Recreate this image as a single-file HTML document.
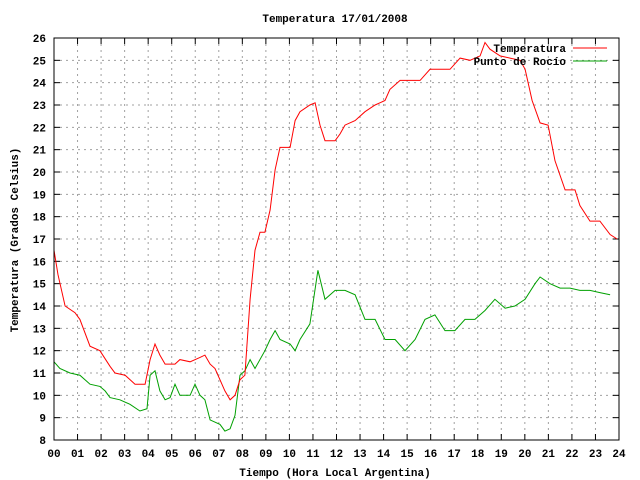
<!DOCTYPE html>
<html><head><meta charset="utf-8"><style>
body{margin:0;background:#fff}
svg{display:block}
text{font-family:"Liberation Mono",monospace;font-size:11px;font-weight:bold;fill:#000}
</style></head><body>
<svg id="chart" width="640" height="480" xmlns="http://www.w3.org/2000/svg">
<rect width="640" height="480" fill="#fff"/>
<g id="grid"></g>
<g id="ticks"></g>
<g id="series"></g>
<rect x="54" y="38" width="565" height="402" fill="none" stroke="#000"/>
<text x="335" y="22" text-anchor="middle">Temperatura 17/01/2008</text>
<text x="335" y="476" text-anchor="middle">Tiempo (Hora Local Argentina)</text>
<text transform="translate(18,240) rotate(-90)" text-anchor="middle">Temperatura (Grados Celsius)</text>
<g>
<text x="566" y="52" text-anchor="end">Temperatura</text>
<line x1="573" y1="48" x2="607" y2="48" stroke="#f00"/>
<text x="566" y="65" text-anchor="end">Punto de Rocío</text>
<line x1="573" y1="61" x2="607" y2="61" stroke="#00a000"/>
</g>
</svg>
<script>
const xTicks=[0,1,2,3,4,5,6,7,8,9,10,11,12,13,14,15,16,17,18,19,20,21,22,23,24];
const yTicks=[8,9,10,11,12,13,14,15,16,17,18,19,20,21,22,23,24,25,26];
const tempHours=[0,0.17,0.47,0.89,1.10,1.53,1.95,2.38,2.59,3.02,3.44,3.87,4.08,4.29,4.50,4.72,5.14,5.35,5.78,6.20,6.41,6.63,6.84,7.26,7.48,7.69,7.90,8.11,8.33,8.54,8.75,8.96,9.18,9.39,9.60,10.03,10.24,10.45,10.87,11.09,11.30,11.51,11.94,12.15,12.36,12.79,13.21,13.64,14.06,14.27,14.70,15.12,15.55,15.97,16.40,16.82,17.25,17.67,18.10,18.31,18.52,18.95,19.37,19.80,20.01,20.31,20.65,20.99,21.28,21.71,22.13,22.34,22.77,23.19,23.62,23.92];
const tempValues=[16.5,15.4,14.0,13.7,13.4,12.2,12.0,11.3,11.0,10.9,10.5,10.5,11.6,12.3,11.8,11.4,11.4,11.6,11.5,11.7,11.8,11.4,11.2,10.2,9.8,10.0,10.7,10.9,14.3,16.5,17.3,17.3,18.3,20.1,21.1,21.1,22.3,22.7,23.0,23.1,22.1,21.4,21.4,21.7,22.1,22.3,22.7,23.0,23.2,23.7,24.1,24.1,24.1,24.6,24.6,24.6,25.1,25.0,25.2,25.8,25.5,25.2,25.1,25.0,24.6,23.2,22.2,22.1,20.5,19.2,19.2,18.5,17.8,17.8,17.2,17.0];
const dewHours=[0,0.25,0.68,1.10,1.53,1.95,2.17,2.38,2.80,3.23,3.65,3.95,4.08,4.29,4.50,4.72,4.93,5.14,5.35,5.78,5.99,6.20,6.41,6.63,7.05,7.26,7.48,7.69,7.90,8.11,8.33,8.54,8.96,9.18,9.39,9.60,10.03,10.24,10.45,10.87,11.21,11.51,11.94,12.36,12.79,13.21,13.64,14.06,14.49,14.91,15.34,15.76,16.18,16.61,17.03,17.46,17.88,18.31,18.73,19.16,19.58,20.01,20.43,20.65,21.07,21.50,21.92,22.34,22.77,23.19,23.62];
const dewValues=[11.5,11.2,11.0,10.9,10.5,10.4,10.2,9.9,9.8,9.6,9.3,9.4,10.9,11.1,10.2,9.8,9.9,10.5,10.0,10.0,10.5,10.0,9.8,8.9,8.7,8.4,8.5,9.1,10.9,11.1,11.6,11.2,12.0,12.5,12.9,12.5,12.3,12.0,12.5,13.2,15.6,14.3,14.7,14.7,14.5,13.4,13.4,12.5,12.5,12.0,12.5,13.4,13.6,12.9,12.9,13.4,13.4,13.8,14.3,13.9,14.0,14.3,15.0,15.3,15.0,14.8,14.8,14.7,14.7,14.6,14.5];
const X0=54,X1=619,Y0=440,Y1=38;
const sx=h=>X0+(h-0)/(24-0)*(X1-X0);
const sy=v=>Y0-(v-8)/(26-8)*(Y0-Y1);
const NS="http://www.w3.org/2000/svg";
const grid=document.getElementById('grid'),ticks=document.getElementById('ticks'),ser=document.getElementById('series');
function mk(tag,attrs,parent){const e=document.createElementNS(NS,tag);for(const k in attrs)e.setAttribute(k,attrs[k]);parent.appendChild(e);return e;}
xTicks.forEach(t=>{const x=sx(t);
 if(t>0&&t<24){const g=mk('line',{x1:x,y1:Y1,x2:x,y2:Y0,stroke:'#a0a0a0','stroke-dasharray':'2,4'},grid);
 
 }
 const a=mk('line',{x1:x,y1:Y0,x2:x,y2:Y0-6,stroke:'#000'},ticks);
 
 
 const b=mk('line',{x1:x,y1:Y1,x2:x,y2:Y1+6,stroke:'#000'},ticks);
 
 
 const l=mk('text',{x:x,y:Y0+17,'text-anchor':'middle'},ticks);l.textContent=String(t).padStart(2,'0');
 
 });
yTicks.forEach(t=>{const y=sy(t);
 if(t>8&&t<26){const g=mk('line',{x1:X0,y1:y,x2:X1,y2:y,stroke:'#a0a0a0','stroke-dasharray':'2,4'},grid);
 
 }
 const a=mk('line',{x1:X0,y1:y,x2:X0+6,y2:y,stroke:'#000'},ticks);
 
 
 const b=mk('line',{x1:X1,y1:y,x2:X1-6,y2:y,stroke:'#000'},ticks);
 
 
 const l=mk('text',{x:X0-8,y:y+4,'text-anchor':'end'},ticks);l.textContent=t;
 
 });
function line(hs,vs,color,name){const d=hs.map((h,i)=>(i?'L':'M')+sx(h).toFixed(1)+','+sy(vs[i]).toFixed(1)).join('');
 const p=mk('path',{d:d,fill:'none',stroke:color,'stroke-width':1},ser);
 
 }
line(dewHours,dewValues,'#00a000','dew-point-line');
line(tempHours,tempValues,'#f00','temperature-line');
</script>
</body></html>
